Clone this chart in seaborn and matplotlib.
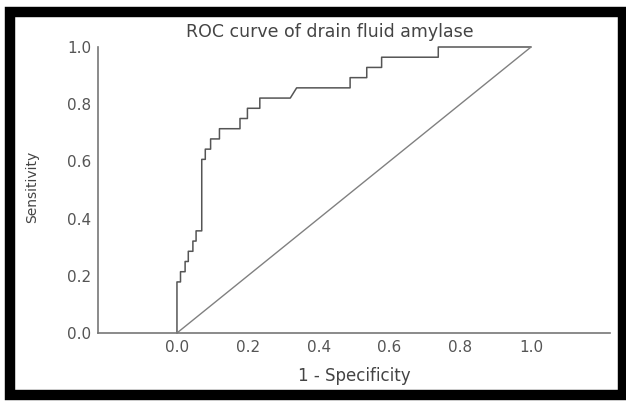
import numpy as np
import pandas as pd
import matplotlib
matplotlib.use("Agg")
import matplotlib.pyplot as plt
import seaborn as sns
from matplotlib.patches import Rectangle

# ROC curve vertices (sensitivity in units of 1/28)
fpr = [0.0, 0.0, 0.010, 0.010, 0.023, 0.023, 0.032, 0.032, 0.045, 0.045,
       0.054, 0.054, 0.070, 0.070, 0.080, 0.080, 0.095, 0.095, 0.120, 0.120,
       0.178, 0.178, 0.199, 0.199, 0.234, 0.234, 0.320, 0.338, 0.489, 0.489,
       0.536, 0.536, 0.578, 0.578, 0.738, 0.738, 1.0]
tpr_counts = [0, 5, 5, 6, 6, 7, 7, 8, 8, 9,
              9, 10, 10, 17, 17, 18, 18, 19, 19, 20,
              20, 21, 21, 22, 22, 23, 23, 24, 24, 25,
              25, 26, 26, 27, 27, 28, 28]
n_pos = 28
ref_x = [0.0, 1.0]
ref_y = [0.0, 1.0]

x_ticks = [0.0, 0.2, 0.4, 0.6, 0.8, 1.0]
y_ticks = [0.0, 0.2, 0.4, 0.6, 0.8, 1.0]

roc = pd.DataFrame({"fpr": fpr, "tpr": np.array(tpr_counts) / n_pos})
diag = pd.DataFrame({"x": ref_x, "y": ref_y})

sns.set_style("white")
plt.rcParams["font.family"] = ["DejaVu Sans"]

fig = plt.figure(figsize=(6.26, 4.03), dpi=100)
ax = fig.add_axes([98 / 626, 70 / 403, 512 / 626, 286 / 403])

sns.lineplot(data=roc, x="fpr", y="tpr", ax=ax, estimator=None, sort=False,
             color="#555555", linewidth=1.1, clip_on=False)
sns.lineplot(data=diag, x="x", y="y", ax=ax, estimator=None, sort=False,
             color="#808080", linewidth=1.0, clip_on=False)

ax.set_xlim(-0.223, 1.223)
ax.set_ylim(0, 1)
ax.set_xticks(x_ticks)
ax.set_yticks(y_ticks)
ax.set_xticklabels([f"{t:.1f}" for t in x_ticks])
ax.set_yticklabels([f"{t:.1f}" for t in y_ticks])
ax.tick_params(direction="in", length=4, width=1, color="#777777",
               labelcolor="#555555", labelsize=11, pad=5)
for side in ["top", "right"]:
    ax.spines[side].set_visible(False)
for side in ["left", "bottom"]:
    ax.spines[side].set_color("#777777")
    ax.spines[side].set_linewidth(1.2)

ax.set_xlabel("1 - Specificity", fontsize=12, color="#444444", labelpad=9)
ax.set_ylabel("")
fig.text(32 / 626, 1 - 187 / 403, "Sensitivity", rotation=90, fontsize=10,
         color="#444444", ha="center", va="center")
fig.text(330 / 626, 1 - 32 / 403, "ROC curve of drain fluid amylase",
         fontsize=12.5, color="#444444", ha="center", va="center")

# thick black frame around the figure
fig.patches.append(Rectangle((10 / 626, 8 / 403), 613 / 626, 383 / 403,
                             transform=fig.transFigure, fill=False,
                             edgecolor="black", linewidth=7.5))

fig.savefig("out.png", dpi=100)
